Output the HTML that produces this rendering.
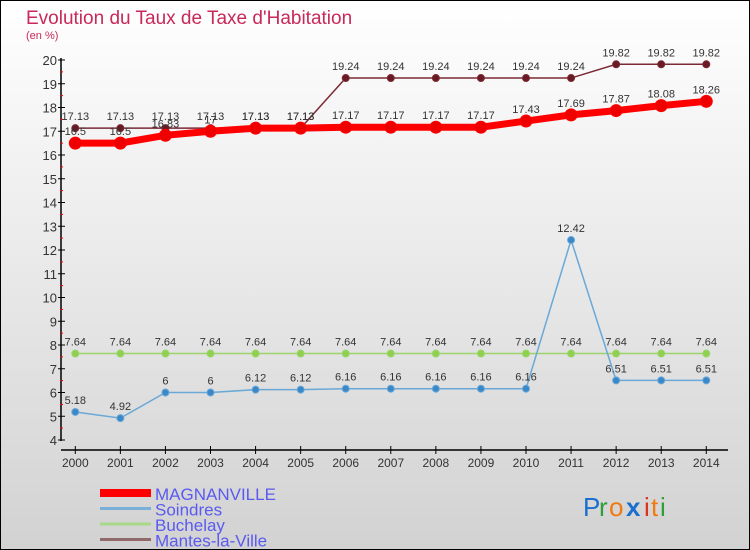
<!DOCTYPE html>
<html><head><meta charset="utf-8"><style>
html,body{margin:0;padding:0}
body{width:750px;height:550px;overflow:hidden;font-family:"Liberation Sans",sans-serif}
svg{display:block}
text{font-family:"Liberation Sans",sans-serif}
</style></head><body>
<svg id="chart" width="750" height="550" xmlns="http://www.w3.org/2000/svg">
<defs><linearGradient id="bg" x1="0" y1="0" x2="0" y2="1"><stop offset="0" stop-color="#ffffff"/><stop offset="1" stop-color="#d2d2d2"/></linearGradient></defs>
<rect x="0.5" y="0.5" width="749" height="549" fill="url(#bg)" stroke="#000"/>
<text x="26" y="24" font-size="19" fill="#c8285a">Evolution du Taux de Taxe d'Habitation</text>
<text x="26" y="39" font-size="11" fill="#c8285a">(en %)</text>
<g id="axes"></g><g id="series"></g><g id="legend"></g>
<g font-size="26">
<text x="583" y="516" fill="#1a6fcf">P</text><text x="599" y="516" fill="#2e9e3a">r</text><text x="609" y="516" fill="#f07a10">o</text>
<text x="626" y="516" fill="#1a6fcf" font-weight="bold">x</text><text x="644" y="516" fill="#e03020">i</text><text x="651" y="516" fill="#f07a10">t</text><text x="660" y="516" fill="#2e9e3a">i</text></g>
</svg>
<script>
const years=[2000,2001,2002,2003,2004,2005,2006,2007,2008,2009,2010,2011,2012,2013,2014];
const magnanville=[16.5,16.5,16.83,17,17.13,17.13,17.17,17.17,17.17,17.17,17.43,17.69,17.87,18.08,18.26];
const magnanvilleLabels=["16.5","16.5","16.83","17","17.13","17.13","17.17","17.17","17.17","17.17","17.43","17.69","17.87","18.08","18.26"];
const soindres=[5.18,4.92,6,6,6.12,6.12,6.16,6.16,6.16,6.16,6.16,12.42,6.51,6.51,6.51];
const buchelay=[7.64,7.64,7.64,7.64,7.64,7.64,7.64,7.64,7.64,7.64,7.64,7.64,7.64,7.64,7.64];
const mantes=[17.13,17.13,17.13,17.13,17.13,17.13,19.24,19.24,19.24,19.24,19.24,19.24,19.82,19.82,19.82];
const yTicks=[4,5,6,7,8,9,10,11,12,13,14,15,16,17,18,19,20];
const NS="http://www.w3.org/2000/svg";
const X=i=>75.3+i*45.07, Y=v=>440-(v-4)*23.75;
function mk(tag,attrs,parent,txt){const e=document.createElementNS(NS,tag);for(const k in attrs)e.setAttribute(k,attrs[k]);if(txt!==undefined)e.textContent=txt;parent.appendChild(e);return e;}
const axes=document.getElementById('axes'),series=document.getElementById('series'),legend=document.getElementById('legend');
let e=mk('line',{x1:61,y1:58,x2:61,y2:441,stroke:'#000','stroke-width':1.5},axes);

e=mk('line',{x1:61,y1:450,x2:728,y2:450,stroke:'#000','stroke-width':1.5},axes);

yTicks.forEach(t=>{
 e=mk('line',{x1:58,x2:65,y1:Y(t),y2:Y(t),stroke:'#000'},axes);
 
 e=mk('text',{x:57,y:Y(t)+5,'text-anchor':'end','font-size':13,fill:'#333'},axes,t);
 
 if(t<20){e=mk('line',{x1:60,x2:63,y1:Y(t+0.5),y2:Y(t+0.5),stroke:'#e00'},axes);
 }
});
years.forEach((yr,i)=>{
 e=mk('line',{x1:X(i),x2:X(i),y1:446,y2:454,stroke:'#000'},axes);
 
 e=mk('text',{x:X(i),y:467,'text-anchor':'middle','font-size':12,fill:'#333'},axes,yr);
 
});
function draw(name,vals,labels,color,fill,w,r,dy){
 const g=mk('g',{},series);
 e=mk('polyline',{points:vals.map((v,i)=>X(i)+','+Y(v)).join(' '),fill:'none',stroke:color,'stroke-width':w},g);
 
 vals.forEach((v,i)=>{
  e=mk('circle',{cx:X(i),cy:Y(v),r:r,fill:fill,stroke:color,'stroke-width':1},g);
  
  e=mk('text',{x:X(i),y:Y(v)-dy,'text-anchor':'middle','font-size':11,fill:'#333'},g,labels?labels[i]:String(v));
  
 });
}
draw('buchelay',buchelay,null,'#9ad46a','#8fd04e',1.5,3.5,8);
draw('soindres',soindres,null,'#6aa8d8','#3a88c8',1.5,3.5,8);
draw('mantes-la-ville',mantes,null,'#7a2a34','#6a1a24',1.5,3.5,8);
draw('magnanville',magnanville,magnanvilleLabels,'#ff0000','#ee0000',7,6,8);
const lg=[['MAGNANVILLE','#ff0000',8],['Soindres','#7ab0d8',3],['Buchelay','#a8d888',3],['Mantes-la-Ville','#906a6a',3]];
lg.forEach((l,i)=>{const y=493+i*15.5;
 const g=mk('g',{},legend);
 mk('line',{x1:100,x2:151,y1:y,y2:y,stroke:l[1],'stroke-width':l[2]},g);
 mk('text',{x:155,y:y+7,'font-size':17,fill:'#5a5af0'},g,l[0]);
});
</script>
</body></html>
